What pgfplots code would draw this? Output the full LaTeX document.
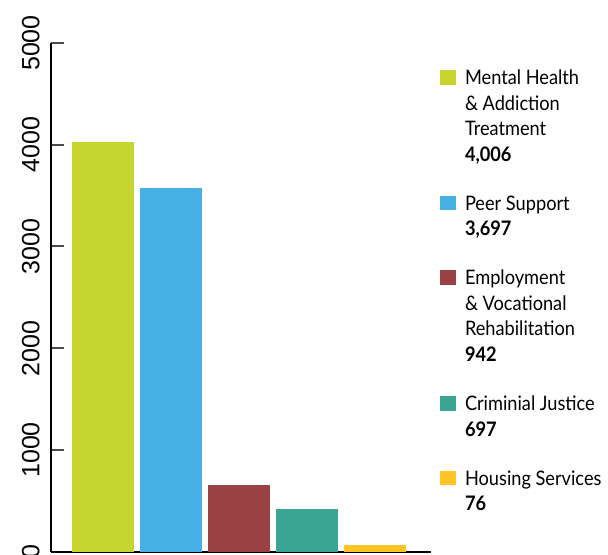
\documentclass[border=0pt]{standalone}
\usepackage{pgfplots}
\pgfplotsset{compat=1.18}
\usepackage{fontspec}
\setmainfont{Lato}[FakeStretch=0.91]
\newfontfamily\tickfont{Liberation Sans}

\definecolor{cgreen}{RGB}{198,213,48}
\definecolor{cblue}{RGB}{71,177,229}
\definecolor{cred}{RGB}{154,65,68}
\definecolor{cteal}{RGB}{59,165,148}
\definecolor{cyellow}{RGB}{255,196,37}

% multi-line legend entry, baseline on first line
\newcommand{\entry}[1]{\begin{tabular}[t]{@{}l@{}}#1\end{tabular}}

\begin{document}
\begin{tikzpicture}
\begin{axis}[
    width=190pt, height=254.35pt, scale only axis,
    xmin=-0.765, xmax=4.82, ymin=0, ymax=5000,
    axis x line*=bottom, axis y line*=left,
    axis line style={black, line width=0.9pt, -},
    xtick=\empty,
    ytick={0,1000,2000,3000,4000,5000},
    yticklabels={0,1000,2000,3000,4000,5000},
    tick align=inside,
    major tick length=6.5pt,
    ytick style={draw=black!70, line width=1pt},
    yticklabel style={font=\tickfont\fontsize{12.5}{15}\selectfont, rotate=90, anchor=south, inner sep=0pt},
    yticklabel shift=5.5pt,
    legend style={at={(rel axis cs:1.0237,0.953)}, anchor=north west,
        draw=none, fill=none, inner sep=0pt, outer sep=0pt,
        font=\fontsize{10}{12.75}\selectfont,
        row sep=11.8pt, column sep=4.5pt,
        cells={anchor=base west},
        nodes={inner sep=0pt, anchor=base west, text depth=, text height=}},
    legend image code/.code={\fill[#1] (0pt,0pt) rectangle (8pt,7.3pt);},
]
\addplot[ybar, bar width=0.912, bar shift=0pt, fill=cgreen, draw=none] coordinates {(0,4030)};
\addlegendentry{\entry{Mental Health\\\& Addiction\\Treatment\\\textbf{4,006}}}
\addplot[ybar, bar width=0.912, bar shift=0pt, fill=cblue, draw=none] coordinates {(1,3575)};
\addlegendentry{\entry{Peer Support\\\textbf{3,697}}}
\addplot[ybar, bar width=0.912, bar shift=0pt, fill=cred, draw=none] coordinates {(2,655)};
\addlegendentry{\entry{Employment\\\& Vocational\\Rehabilitation\\\textbf{942}}}
\addplot[ybar, bar width=0.912, bar shift=0pt, fill=cteal, draw=none] coordinates {(3,420)};
\addlegendentry{\entry{Criminial Justice\\\textbf{697}}}
\addplot[ybar, bar width=0.912, bar shift=0pt, fill=cyellow, draw=none] coordinates {(4,65)};
\addlegendentry{\entry{Housing Services\\\textbf{76}}}
\end{axis}
\pgfresetboundingbox
\path[use as bounding box] (-25.5pt,-1.15pt) rectangle (278.5pt,275.85pt);
\end{tikzpicture}
\end{document}
